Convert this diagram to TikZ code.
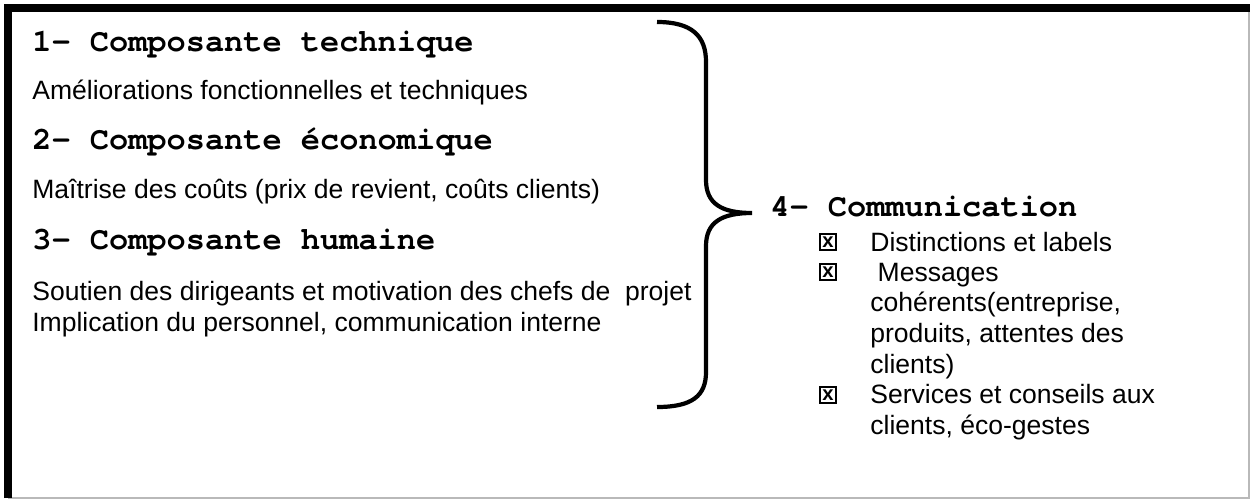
\documentclass[tikz,border=0pt]{standalone}
\usepackage{fontspec}
\setmainfont{Liberation Sans}
\newfontfamily\headFont{texgyrecursor}[
    Extension=.otf, UprightFont=*-regular, BoldFont=*-bold]
\usepackage{xcolor}
\definecolor{docDark}{RGB}{0, 0, 0}
\definecolor{frameGray}{RGB}{185, 185, 185}
\usetikzlibrary{positioning}

\begin{document}
\begin{tikzpicture}[
    x=0.02cm, y=-0.02cm,
    headText/.style={
        anchor=base west, inner sep=0pt,
        font=\headFont\bfseries\fontsize{18.2}{20}\selectfont
    },
    bodyText/.style={
        anchor=base west, inner sep=0pt, align=left,
        font=\fontsize{15.1}{17.4}\selectfont
    },
    tickBox/.style={
        draw=docDark, line width=1.2pt, inner sep=0pt,
        minimum size=0.33cm,
        font=\bfseries\fontsize{11.5}{11.5}\selectfont
    },
    braceLine/.style={line width=2.4pt, draw=docDark},
    frameThick/.style={line width=4pt, draw=docDark},
    frameThin/.style={line width=0.9pt, draw=frameGray}
]
    \useasboundingbox (0,0) rectangle (1254,500);

    % Frame
    \draw[frameThin] (1249,8) -- (1249,498) -- (8,498);
    \draw[frameThick] (8,498) -- (8,8) -- (1250,8);

    % Left column: the three components
    \node[headText] (techHead) at (32,52) {1- Composante technique};
    \node[bodyText] (techBody) at (32,100) {Améliorations fonctionnelles et techniques};

    \node[headText] (ecoHead) at (32,150) {2- Composante économique};
    \node[bodyText] (ecoBody) at (32,198) {Maîtrise des coûts (prix de revient, coûts clients)};

    \node[headText] (humHead) at (32,249) {3- Composante humaine};
    % multi-line nodes sit on the baseline of their last line
    \node[bodyText] (humBody) at (32,331) {Soutien des dirigeants et motivation des chefs de\ \ projet\\
        Implication du personnel, communication interne};

    % Brace
    \coordinate (braceTip) at (752,213);
    \draw[braceLine] (657,22) .. controls (692,22) and (706,36) .. (706,62)
        -- (706,180) .. controls (706,204) and (722,213) .. (braceTip)
        .. controls (722,213) and (706,222) .. (706,246)
        -- (706,372) .. controls (706,396) and (692,407) .. (657,407);

    % Right column: communication
    \node[headText] (comHead) at (770,216) {4- Communication};

    \node[tickBox] (boxA) at (828,242) {x};
    \node[bodyText] (itemA) at (870,251) {Distinctions et labels};

    \node[tickBox] (boxB) at (828,272) {x};
    \node[bodyText] (itemB) at (870,373) {\ Messages\\
        cohérents(entreprise,\\
        produits, attentes des\\
        clients)};

    \node[tickBox] (boxC) at (828,395) {x};
    \node[bodyText] (itemC) at (870,434) {Services et conseils aux\\
        clients, éco-gestes};

\end{tikzpicture}
\end{document}
